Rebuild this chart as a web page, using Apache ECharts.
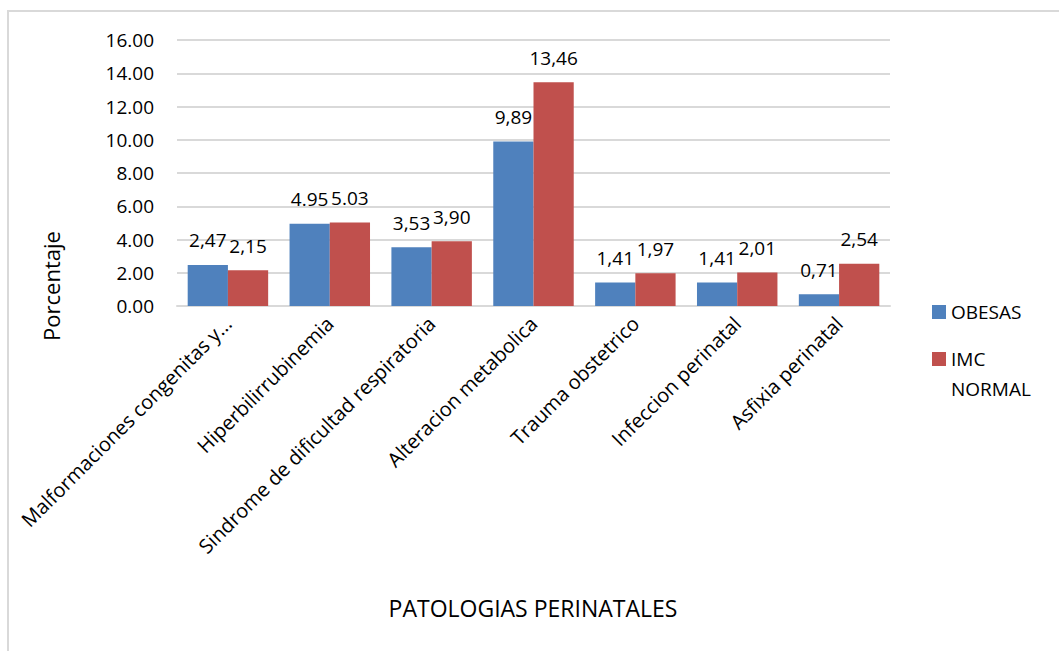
<!DOCTYPE html>
<html>
<head>
<meta charset="utf-8">
<title>Patologias perinatales</title>
<script src="https://cdn.jsdelivr.net/npm/echarts@6/dist/echarts.min.js"></script>
<style>
  body { margin: 0; background: #fff; }
  #chart { position: absolute; left: 0; top: 0; width: 1059px; height: 651px; }
  #frame {
    position: absolute; left: 7px; top: 10px; right: 0; bottom: 0;
    border-left: 2px solid #d9d9d9; border-top: 2px solid #d9d9d9;
    pointer-events: none;
  }
</style>
</head>
<body>
<div id="frame"></div>
<div id="chart"></div>
<script>
// datos del grafico
var categorias = [
  'Malformaciones congenitas y...',
  'Hiperbilirrubinemia',
  'Sindrome de dificultad respiratoria',
  'Alteracion metabolica',
  'Trauma obstetrico',
  'Infeccion perinatal',
  'Asfixia perinatal'
]
var obesas = [2.47, 4.95, 3.53, 9.89, 1.41, 1.41, 0.71]
var imcNormal = [2.15, 5.03, 3.90, 13.46, 1.97, 2.01, 2.54]
// etiquetas tal como salen en el original (mezcla de coma y punto)
var etiquetasObesas = ['2,47', '4.95', '3,53', '9,89', '1,41', '1,41', '0,71']
var etiquetasNormal = ['2,15', '5.03', '3,90', '13,46', '1,97', '2,01', '2,54']

var fuente = 'Open Sans'
var myChart = echarts.init(document.getElementById('chart'), null, { renderer: 'svg' })

var option = {
  textStyle: { fontFamily: fuente },
  grid: {
    left: 177,
    right: 169,
    top: 40,
    bottom: 345
  },
  legend: [
    {
      orient: 'vertical',
      left: 932,
      top: 300,
      padding: 0,
      itemWidth: 14,
      itemHeight: 14,
      icon: 'rect',
      data: ['OBESAS'],
      textStyle: { fontSize: 19, color: '#000', lineHeight: 24 }
    },
    {
      orient: 'vertical',
      left: 932,
      top: 314,
      padding: 0,
      itemWidth: 14,
      itemHeight: 14,
      icon: 'rect',
      data: ['IMC NORMAL'],
      // linea vacia arriba para que el cuadro quede a la altura de "IMC"
      formatter: function () { return ' \nIMC\nNORMAL' },
      textStyle: { fontSize: 19, color: '#000', lineHeight: 30 }
    }
  ],
  xAxis: {
    type: 'category',
    data: categorias,
    axisTick: { show: false },
    axisLine: { lineStyle: { color: '#d9d9d9', width: 2 } },
    axisLabel: {
      interval: 0,
      rotate: 45,
      margin: 14,
      fontSize: 20,
      color: '#000'
    }
  },
  yAxis: {
    type: 'value',
    min: 0,
    max: 16,
    interval: 2,
    axisLine: { show: false },
    axisTick: { show: false },
    splitLine: { lineStyle: { color: '#d9d9d9', width: 2 } },
    axisLabel: {
      margin: 23,
      fontSize: 19,
      color: '#000',
      formatter: function (v) { return v.toFixed(2) }
    }
  },
  series: [
    {
      name: 'OBESAS',
      type: 'bar',
      barGap: '0%',
      barCategoryGap: '21%',
      itemStyle: { color: '#4f81bd' },
      label: {
        show: true,
        position: 'top',
        distance: 15,
        fontSize: 19,
        color: '#000',
        formatter: function (p) { return etiquetasObesas[p.dataIndex] }
      },
      data: obesas
    },
    {
      name: 'IMC NORMAL',
      type: 'bar',
      itemStyle: { color: '#c0504d' },
      label: {
        show: true,
        position: 'top',
        distance: 15,
        fontSize: 19,
        color: '#000',
        formatter: function (p) { return etiquetasNormal[p.dataIndex] }
      },
      data: imcNormal
    }
  ],
  graphic: [
    {
      type: 'text',
      x: 51,
      y: 286,
      rotation: Math.PI / 2,
      style: {
        text: 'Porcentaje',
        fontFamily: fuente,
        fontSize: 22,
        fill: '#000',
        textAlign: 'center',
        textVerticalAlign: 'middle'
      }
    },
    {
      type: 'text',
      x: 533,
      y: 608,
      style: {
        text: 'PATOLOGIAS PERINATALES',
        fontFamily: fuente,
        fontSize: 23,
        fill: '#000',
        textAlign: 'center',
        textVerticalAlign: 'middle'
      }
    }
  ]
}

myChart.setOption(option)
</script>
</body>
</html>
